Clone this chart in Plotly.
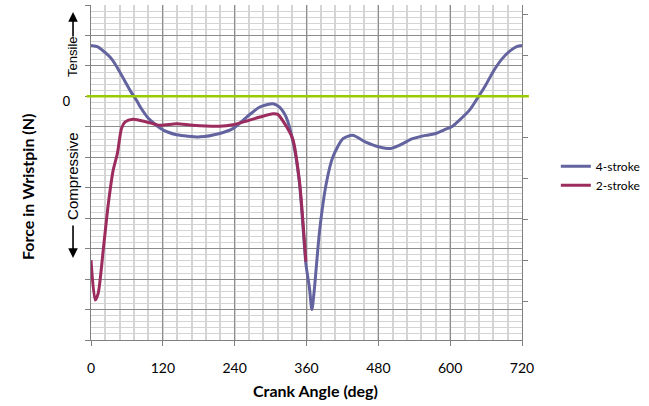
import plotly.graph_objects as go

# ---- data ----
angle_4s = [0, 12, 23, 34, 45, 56, 67, 76, 84, 95, 106, 117, 128, 143, 182, 215, 237,
            260, 282, 304, 315, 326, 337, 348, 359, 365, 369, 373, 382, 393, 404, 421,
            437, 459, 482, 501, 515, 537, 559, 576, 590, 604, 615, 632, 645, 659, 673,
            687, 701, 712, 720]
force_4s = [1.67, 1.62, 1.45, 1.24, 0.91, 0.52, 0.14, -0.13, -0.40, -0.70, -0.90, -1.06,
            -1.17, -1.26, -1.33, -1.22, -1.06, -0.68, -0.35, -0.24, -0.35, -0.68, -1.44,
            -2.8, -5.5, -6.3, -7.0, -6.36, -4.39, -2.86, -1.99, -1.39, -1.28, -1.5,
            -1.66, -1.71, -1.61, -1.39, -1.28, -1.22, -1.1, -0.98, -0.79, -0.46, -0.08,
            0.36, 0.85, 1.24, 1.51, 1.64, 1.67]

angle_2s = [0, 7, 12, 21, 29, 37, 44, 51, 57, 70, 93, 115, 143, 170, 215, 237, 260,
            282, 304, 312, 320, 337, 348, 359]
force_2s = [-5.38, -6.69, -6.47, -4.94, -3.52, -2.43, -1.88, -1.05, -0.84, -0.75, -0.84,
            -0.95, -0.9, -0.95, -0.98, -0.93, -0.81, -0.68, -0.57, -0.59, -0.79, -1.4,
            -2.75, -5.43]

x_ticks = [0, 120, 240, 360, 480, 600, 720]
y_ticks = [-8, -7, -6, -5, -4, -3, -2, -1, 0, 1, 2, 3]
y_ticktext = ["" if v != 0 else "0" for v in y_ticks]

C4 = "#63639f"
C2 = "#9c2b5e"
GREEN = "#99cc00"
FONT = "Liberation Sans"

fig = go.Figure()
fig.add_trace(go.Scatter(x=angle_4s, y=force_4s, mode="lines", name="4-stroke",
                         line=dict(color=C4, width=3, shape="spline", smoothing=0.7)))
fig.add_trace(go.Scatter(x=angle_2s, y=force_2s, mode="lines", name="2-stroke",
                         line=dict(color=C2, width=3, shape="spline", smoothing=0.7)))
# dummy trace to show secondary axis
fig.add_trace(go.Scatter(x=[None], y=[None], yaxis="y2", showlegend=False,
                         hoverinfo="skip"))

fig.add_shape(type="line", xref="paper", yref="y", x0=-0.01, x1=1.016, y0=0, y1=0,
              line=dict(color=GREEN, width=2.5), layer="above")

fig.update_layout(
    width=649, height=406,
    margin=dict(l=91, r=126, t=5, b=66),
    paper_bgcolor="white", plot_bgcolor="white",
    font=dict(family=FONT, size=12, color="black"),
    showlegend=True,
    legend=dict(x=1.076, y=0.49, xanchor="left", yanchor="middle",
                font=dict(family="Lato", size=12), itemwidth=30,
                bgcolor="rgba(0,0,0,0)", tracegroupgap=0),
    xaxis=dict(range=[0, 720], tickvals=x_ticks, ticktext=[str(v) for v in x_ticks],
               showgrid=True, gridcolor="#8c8c8c", gridwidth=1,
               minor=dict(dtick=24, tick0=0, showgrid=True, gridcolor="#d4d4d4",
                          gridwidth=1.5, ticks=""),
               showline=True, linecolor="#808080", linewidth=1,
               ticks="outside", ticklen=5, tickcolor="#808080",
               tickfont=dict(family="Lato", size=14),
               ticklabelstandoff=10, zeroline=False),
    yaxis=dict(range=[-8, 3], tickvals=y_ticks, ticktext=y_ticktext,
               showgrid=True, gridcolor="#8c8c8c", gridwidth=1,
               minor=dict(dtick=0.2, tick0=0, showgrid=True, gridcolor="#d4d4d4",
                          gridwidth=1.2, ticks=""),
               showline=True, linecolor="#808080", linewidth=1,
               ticks="outside", ticklen=5, tickcolor="#808080",
               tickfont=dict(family=FONT, size=14),
               ticklabelstandoff=12, ticklabelshift=5, zeroline=False),
    yaxis2=dict(range=[-8, 3], overlaying="y", side="right", tick0=0, dtick=1.346,
                showgrid=False, showticklabels=False, showline=True,
                linecolor="#808080", linewidth=1, ticks="outside", ticklen=5,
                tickcolor="#808080", zeroline=False),
)

annots = [
    dict(text="<b>Crank Angle (deg)</b>", x=0.52, y=-0.152, xref="paper", yref="paper",
         showarrow=False, xanchor="center", yanchor="middle",
         font=dict(family="Lato", size=16)),
    dict(text="<b>Force in Wristpin (N)</b>", x=-0.146, y=0.457, xref="paper",
         yref="paper", showarrow=False, textangle=-90, xanchor="center",
         yanchor="middle", font=dict(family="Lato", size=16)),
    dict(text="Tensile", x=-0.0417, y=0.845, xref="paper", yref="paper",
         showarrow=False, textangle=-90, xanchor="center", yanchor="middle",
         font=dict(family=FONT, size=13)),
    dict(text="Compressive", x=-0.0417, y=0.49, xref="paper", yref="paper",
         showarrow=False, textangle=-90, xanchor="center", yanchor="middle",
         font=dict(family=FONT, size=15)),
    dict(text="", x=-0.0417, y=0.979, xref="paper", yref="paper", showarrow=True,
         ax=0, ay=26, arrowhead=2, arrowsize=1.2, arrowwidth=1.6, arrowcolor="black"),
    dict(text="", x=-0.0417, y=0.245, xref="paper", yref="paper", showarrow=True,
         ax=0, ay=-34, arrowhead=2, arrowsize=1.2, arrowwidth=1.6, arrowcolor="black"),
]
fig.update_layout(annotations=annots)

fig.write_html("out.html", config={"displayModeBar": False},
               post_script="document.body.style.margin='0';document.body.style.padding='0';")
